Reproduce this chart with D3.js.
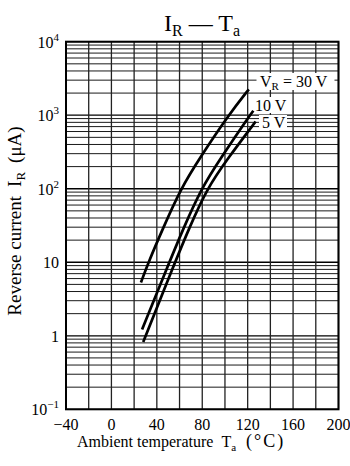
<!DOCTYPE html>
<html><head><meta charset="utf-8">
<script src="https://cdn.jsdelivr.net/npm/d3@7"></script>
<style>
body{margin:0;background:#fff}
svg{display:block}
text{font-family:"Liberation Serif","Times New Roman",serif;fill:#000}
</style>
</head><body>
<svg id="c" width="350" height="466"></svg>
<script>
// ---- data ----
const xGridTicks = [-40,-20,0,20,40,60,80,100,120,140,160,180,200];
const xTickLabels = [-40,0,40,80,120,160,200];
const yDecades = [0.1,1,10,100,1000,10000];
const yTickBase = ["10","1","10","10","10","10"];
const yTickSup  = ["−1","","","2","3","4"];
const minorMultipliers = [2,3,4,5,6,7,8,9];

const temp30 = [26,32.6,45,61,78,103,121];
const cur30  = [5.3,10,28,100,265,1000,2250];
const temp10 = [27,51,63,79,96.5,122,125];
const cur10  = [1.22,10,28,100,265,1000,1150];
const temp5  = [28,56,68,84,103,127];
const cur5   = [0.82,10,28,100,265,820];

// ---- layout ----
const svg = d3.select("#c");
const L=66, R=338.5, T=41.7, B=409.3;
const x = d3.scaleLinear().domain([-40,200]).range([L,R]);
const y = d3.scaleLog().domain([0.1,10000]).range([B,T]);

// minor horizontal grid
const minorVals = [];
yDecades.slice(0,-1).forEach(d=>minorMultipliers.forEach(m=>minorVals.push(d*m)));
svg.append("g").selectAll("line").data(minorVals).join("line")
  .attr("x1",L).attr("x2",R).attr("y1",d=>y(d)).attr("y2",d=>y(d))
  .attr("stroke","#1a1a1a").attr("stroke-width",1);
// decade lines
svg.append("g").selectAll("line").data(yDecades).join("line")
  .attr("x1",L).attr("x2",R).attr("y1",d=>y(d)).attr("y2",d=>y(d))
  .attr("stroke","#000").attr("stroke-width",1.3);
// vertical grid
svg.append("g").selectAll("line").data(xGridTicks).join("line")
  .attr("x1",d=>x(d)).attr("x2",d=>x(d)).attr("y1",T).attr("y2",B)
  .attr("stroke","#222").attr("stroke-width",1.3);

// label backgrounds
svg.append("rect").attr("x",256.5).attr("y",73).attr("width",78).attr("height",17).attr("fill","#fff");
svg.append("rect").attr("x",254).attr("y",97).attr("width",33).attr("height",16).attr("fill","#fff");
svg.append("rect").attr("x",259).attr("y",115).attr("width",28).attr("height",15).attr("fill","#fff");

// frame
svg.append("rect").attr("x",L).attr("y",T).attr("width",R-L).attr("height",B-T)
  .attr("fill","none").attr("stroke","#000").attr("stroke-width",2);

// curves
const line = d3.line().x(d=>x(d[0])).y(d=>y(d[1])).curve(d3.curveBasis);
const series = [
  d3.zip(temp30,cur30),
  d3.zip(temp10,cur10),
  d3.zip(temp5,cur5)
];
svg.append("g").selectAll("path").data(series).join("path")
  .attr("d",line).attr("fill","none").attr("stroke","#000")
  .attr("stroke-width",2.7);

// curve labels
const t30 = svg.append("text").attr("x",260).attr("y",87).attr("font-size",16);
t30.append("tspan").text("V");
t30.append("tspan").attr("font-size",11).attr("dy",3).text("R");
t30.append("tspan").attr("dy",-3).text(" = 30 V");
svg.append("text").attr("x",255).attr("y",111).attr("font-size",16).text("10 V");
svg.append("text").attr("x",262).attr("y",127.5).attr("font-size",16).text("5 V");

// y tick labels
const yl = svg.append("g").selectAll("text").data(yDecades).join("text")
  .attr("x",59).attr("y",d=>y(d)+6).attr("text-anchor","end").attr("font-size",16);
yl.each(function(d,i){
  const t=d3.select(this);
  t.append("tspan").text(yTickBase[i]);
  if(yTickSup[i]) t.append("tspan").attr("font-size",11).attr("dy",-7).text(yTickSup[i]);
});

// x tick labels
svg.append("g").selectAll("text").data(xTickLabels).join("text")
  .attr("x",d=>x(d)).attr("y",430).attr("text-anchor","middle").attr("font-size",16)
  .text(d=>d<0?"−"+Math.abs(d):d);

// title
const title = svg.append("text").attr("x",202).attr("y",31).attr("text-anchor","middle").attr("font-size",24);
title.append("tspan").text("I");
title.append("tspan").attr("font-size",16).attr("dy",5).text("R");
title.append("tspan").attr("dy",-5).text(" — T");
title.append("tspan").attr("font-size",16).attr("dy",5).text("a");

// x axis title
const xt = svg.append("text").attr("x",77).attr("y",447).attr("font-size",16);
xt.append("tspan").text("Ambient temperature");
xt.append("tspan").attr("dx",8).text("T");
xt.append("tspan").attr("font-size",11).attr("dy",4).text("a");
xt.append("tspan").attr("dx",10).attr("dy",-4).attr("font-size",18).attr("letter-spacing",2).text("(°C)");

// y axis title
const yt = svg.append("text").attr("transform","translate(21,221) rotate(-90)")
  .attr("text-anchor","middle").attr("font-size",19);
yt.append("tspan").text("Reverse current");
yt.append("tspan").attr("dx",9).text("I");
yt.append("tspan").attr("font-size",13).attr("dy",4).text("R");
yt.append("tspan").attr("dx",9).attr("dy",-4).text("(μA)");
</script>
</body></html>
